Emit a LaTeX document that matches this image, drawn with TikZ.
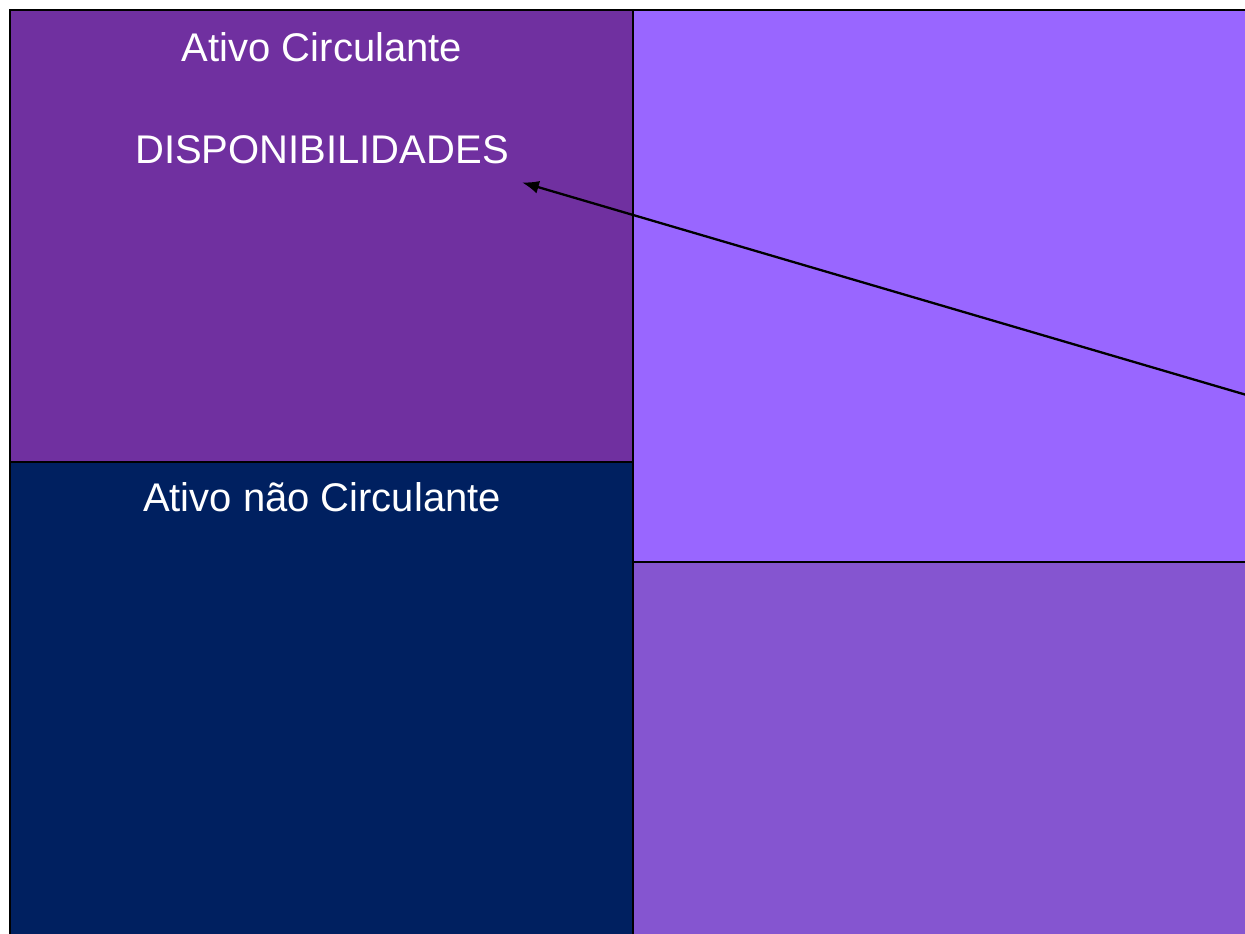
\documentclass[tikz,border=0pt]{standalone}
\usepackage{fontspec}
\setmainfont{Liberation Sans}
\usetikzlibrary{arrows.meta}
\definecolor{acirc}{HTML}{7030A0}
\definecolor{ancirc}{HTML}{002060}
\definecolor{ptop}{HTML}{9966FF}
\definecolor{pbot}{HTML}{8555D0}
\begin{document}
\begin{tikzpicture}[x=1pt,y=-1pt,
		bloco/.style={draw=black,line width=2.5pt},
		rotulo/.style={text=white,font=\fontsize{40}{48}\selectfont,inner sep=0pt}]
	\useasboundingbox (0,0) rectangle (1245,934);
	\clip (0,0) rectangle (1245,934);
	%
	\def\blocos {ac/10/10/633/462/acirc, anc/10/462/633/960/ancirc, pc/633/10/1270/562/ptop, pnc/633/562/1270/960/pbot};
	% draw the four blocks of the balanco
	\foreach \nome\xa\ya\xb\yb\cor in \blocos{
		\filldraw[bloco,fill=\cor] (\xa,\ya) rectangle (\xb,\yb);
	}
	% labels of the ativo side
	\node[rotulo] (ativoc) at (322,47) {Ativo Circulante};
	\node[rotulo] (disp) at (322,150) {DISPONIBILIDADES};
	\node[rotulo] (ativonc) at (322,497) {Ativo não Circulante};
	% arrow from the right edge back to the disponibilidades
	\coordinate (origem) at (1250,396);
	\draw[-{Latex[length=17pt,width=13pt]},line width=2.3pt] (origem) -- ([xshift=13pt,yshift=-18pt]disp.south east);
\end{tikzpicture}
\end{document}
